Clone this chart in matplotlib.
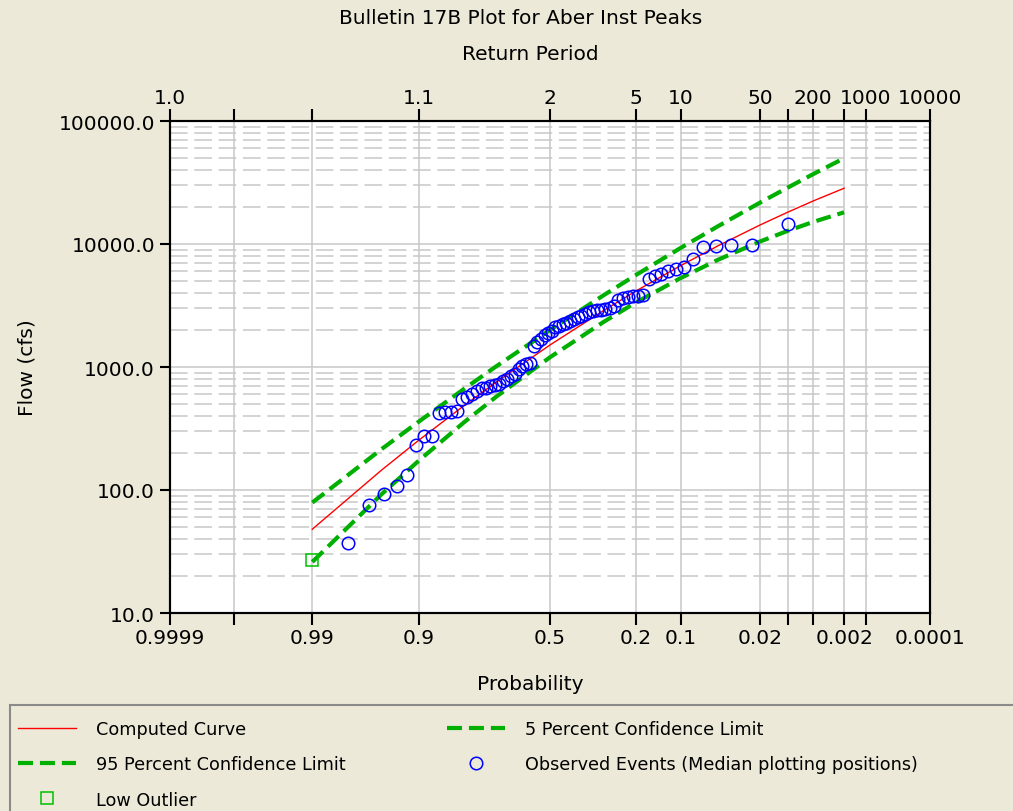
import numpy as np
import matplotlib
matplotlib.use('Agg')
import matplotlib.pyplot as plt
from matplotlib.patches import Rectangle
from matplotlib.ticker import FixedLocator, NullLocator, LogLocator
from statistics import NormalDist

plt.rcParams['lines.scale_dashes'] = False

# exceedance probabilities used for the frequency curves
curve_prob = [0.99, 0.95, 0.9, 0.8, 0.7, 0.5, 0.3, 0.2, 0.1, 0.05, 0.02, 0.01, 0.005, 0.002]
computed_curve = [48, 146, 255, 485, 755, 1510, 2875, 4150, 6690, 9670, 14250, 18130, 22380, 28400]
conf_5pct = [79, 216, 361, 663, 1015, 2000, 3830, 5600, 9320, 13960, 21660, 28730, 37000, 49800]
conf_95pct = [26, 93, 174, 355, 575, 1200, 2325, 3350, 5300, 7450, 10460, 12790, 15120, 18100]

# observed annual peaks, largest first (the low outlier is the smallest event)
observed_flow = [14600, 9900, 9900, 9700, 9500, 7550, 6500, 6250, 6000, 5750,
                 5500, 5150, 3850, 3800, 3750, 3700, 3650, 3500, 3150, 3000,
                 2960, 2930, 2900, 2870, 2780, 2700, 2600, 2530, 2450, 2380,
                 2300, 2240, 2150, 2100, 1970, 1900, 1830, 1700, 1600, 1490,
                 1080, 1050, 1020, 960, 880, 850, 800, 770, 730, 710,
                 700, 680, 670, 640, 600, 570, 545, 435, 430, 428,
                 420, 276, 273, 232, 133, 107, 93, 75, 37]
low_outlier_flow = [27]

# axis ticks
prob_ticks = [0.9999, 0.999, 0.99, 0.9, 0.5, 0.2, 0.1, 0.02, 0.01, 0.005, 0.002, 0.001, 0.0001]
prob_labels = ['0.9999', '', '0.99', '0.9', '0.5', '0.2', '0.1', '0.02', '', '', '0.002', '', '0.0001']
return_labels = ['1.0', '', '', '1.1', '2', '5', '10', '50', '', '200', '', '1000', '10000']
flow_ticks = [10, 100, 1000, 10000, 100000]

BG = '#ECE9D8'
GRID = '#C8C8C8'
GREEN = '#00B000'
FS = 14.5

# plot box in pixels (left, right, top, bottom)
AX_L, AX_R, AX_T, AX_B = 170, 930, 122, 614

_nd = NormalDist()
_ppf = np.vectorize(_nd.inv_cdf, otypes=[float])
_cdf = np.vectorize(_nd.cdf, otypes=[float])


def prob_fwd(p):
    p = np.clip(np.asarray(p, dtype=float), 1e-9, 1 - 1e-9)
    return _ppf(1.0 - p)


def prob_inv(z):
    return 1.0 - _cdf(np.asarray(z, dtype=float))


def setup_prob_axis(axis):
    # exceedance probability falls to the right; the scale itself does the flip
    axis.set_xscale('function', functions=(prob_fwd, prob_inv))
    axis.set_xlim(0.0001, 0.9999)
    axis.xaxis.set_major_locator(FixedLocator(prob_ticks))
    axis.xaxis.set_minor_locator(NullLocator())


def main():
    fig = plt.figure(figsize=(10.13, 8.12), dpi=100, facecolor=BG)
    ax = fig.add_axes([AX_L / 1013, 1 - AX_B / 812, (AX_R - AX_L) / 1013, (AX_B - AX_T) / 812])
    ax.set_facecolor('white')
    w, h = AX_R - AX_L, AX_B - AX_T

    setup_prob_axis(ax)
    ax.set_xticklabels(prob_labels)
    ax.set_yscale('log')
    ax.set_ylim(10, 100000)
    ax.yaxis.set_major_locator(FixedLocator(flow_ticks))
    ax.yaxis.set_minor_locator(LogLocator(base=10, subs=np.arange(2, 10)))
    ax.set_yticklabels(['%.1f' % v for v in flow_ticks])

    # grid
    ax.set_axisbelow(True)
    ax.grid(axis='x', which='major', color=GRID, lw=1.1)
    ax.grid(axis='y', which='major', color=GRID, lw=1.1)
    ax.grid(axis='y', which='minor', color=GRID, lw=1.1, linestyle=(0, (12.7, 4.8)))

    ax.tick_params(axis='x', which='major', direction='out', length=8.6, width=1.5,
                   pad=2.5, labelsize=FS, top=False)
    ax.tick_params(axis='y', which='major', direction='out', length=7.2, width=1.5,
                   pad=3.6, labelsize=FS, right=False)
    ax.tick_params(axis='y', which='minor', length=0)
    for s in ax.spines.values():
        s.set_linewidth(1.5)
        s.set_color('black')

    # plotting positions (median) for ranked events
    n = len(observed_flow) + len(low_outlier_flow)
    ranks = np.arange(1, n + 1)
    pp = (ranks - 0.3) / (n + 0.4)
    obs_p = pp[:len(observed_flow)]
    low_p = pp[len(observed_flow):]

    h_comp, = ax.plot(curve_prob, computed_curve, color='#FF0000', lw=1.0, zorder=3)
    h_5, = ax.plot(curve_prob, conf_5pct, color=GREEN, lw=3, linestyle=(0, (10.8, 5)), zorder=3)
    h_95, = ax.plot(curve_prob, conf_95pct, color=GREEN, lw=3, linestyle=(0, (10.8, 5)), zorder=3)
    h_obs, = ax.plot(obs_p, observed_flow, ls='none', marker='o', mfc='none', mec='#0000FF',
                     ms=9, mew=1.1, zorder=4)
    h_low, = ax.plot(low_p, low_outlier_flow, ls='none', marker='s', mfc='none', mec='#00C000',
                     ms=8.8, mew=1.1, zorder=4, clip_on=False)

    ax.set_xlabel('Probability', fontsize=FS)
    ax.xaxis.set_label_coords((530 - AX_L) / w, (AX_B - 685) / h)
    ax.xaxis.label.set_va('center')
    ax.set_ylabel('Flow (cfs)', fontsize=FS)
    ax.yaxis.set_label_coords((27 - AX_L) / w, 0.5)
    ax.yaxis.label.set_va('center')

    # return period axis on top
    ax2 = ax.twiny()
    setup_prob_axis(ax2)
    ax2.set_xticklabels(return_labels)
    ax2.patch.set_visible(False)
    ax2.tick_params(axis='x', which='major', direction='out', length=8.6, width=1.5,
                    pad=1.5, labelsize=FS, bottom=False, top=True)
    for s in ax2.spines.values():
        s.set_linewidth(1.5)
    ax2.set_xlabel('Return Period', fontsize=FS)
    ax2.xaxis.set_label_coords((530 - AX_L) / w, (AX_B - 55) / h)
    ax2.xaxis.label.set_va('center')

    fig.text(521 / 1013, 1 - 18 / 812, 'Bulletin 17B Plot for Aber Inst Peaks',
             ha='center', va='center', fontsize=FS)

    # legend panel
    fig.add_artist(Rectangle((10 / 1013, -0.1), 1.2, 0.1 + (812 - 706) / 812,
                             transform=fig.transFigure, fill=False,
                             edgecolor='#8A8A8A', lw=1.5))
    fig.legend([h_comp, h_95, h_low, h_5, h_obs],
               ['Computed Curve', '95 Percent Confidence Limit', 'Low Outlier',
                '5 Percent Confidence Limit', 'Observed Events (Median plotting positions)'],
               ncol=2, loc='upper left', bbox_to_anchor=(18 / 1013, 1 - 721 / 812),
               frameon=False, fontsize=12.7, handlelength=3.3, handletextpad=1.15,
               columnspacing=5.7, labelspacing=0.98, borderaxespad=0, borderpad=0,
               numpoints=1)

    fig.savefig('out.png', dpi=100, facecolor=BG)


if __name__ == "__main__":
    main()
